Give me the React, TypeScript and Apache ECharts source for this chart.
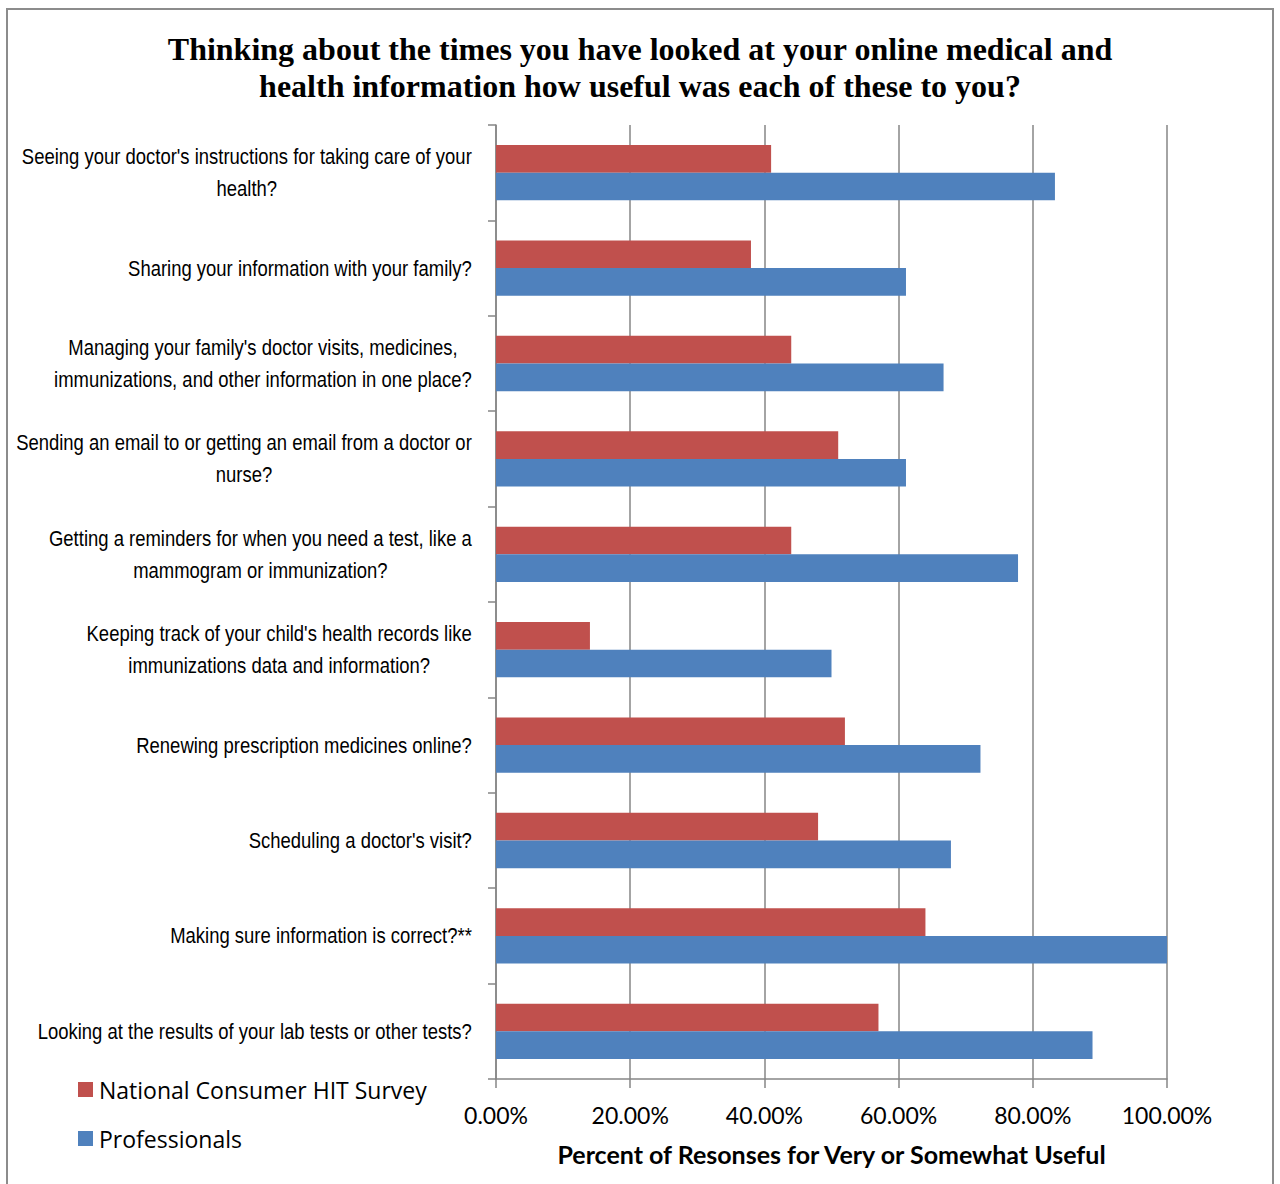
import React, { useEffect, useRef } from "react";
import * as echarts from "echarts";

// Survey questions, top to bottom
const categories: string[] = [
  "Seeing your doctor's instructions for taking care of your\nhealth?",
  "Sharing your information with your family?",
  "Managing your family's doctor visits, medicines,\nimmunizations, and other information in one place?",
  "Sending an email to or getting an email from a doctor or\nnurse?",
  "Getting a reminders for when you need a test, like a\nmammogram or immunization?",
  "Keeping track of your child's health records like\nimmunizations data and information?",
  "Renewing prescription medicines online?",
  "Scheduling a doctor's visit?",
  "Making sure information is correct?**",
  "Looking at the results of your lab tests or other tests?",
];

const seriesNames: string[] = ["National Consumer HIT Survey", "Professionals"];

// Percent answering very or somewhat useful
const consumerValues: number[] = [41.0, 38.0, 44.0, 51.0, 44.0, 14.0, 52.0, 48.0, 64.0, 57.0];
const professionalValues: number[] = [83.3, 61.1, 66.7, 61.1, 77.8, 50.0, 72.2, 67.8, 100.0, 88.9];

const xTicks = { min: 0, max: 100, interval: 20 };

const titleText =
  "Thinking about the times you have looked at your online medical and\nhealth information how useful was each of these to you?";
const xAxisTitle = "Percent of Resonses for Very or Somewhat Useful";

const RED = "#C0504D";
const BLUE = "#4F81BD";
const GRID_GREY = "#868686";
const LABEL_FONT = "'Liberation Sans', Arial, sans-serif";
const LABEL_GAP = 24; // distance from the category axis line to the label's right edge
const LABEL_SQUEEZE = 0.84; // horizontal condensing of category labels

export default function App() {
  const ref = useRef<HTMLDivElement>(null);

  useEffect(() => {
    document.body.style.margin = "0";
    if (!ref.current) return;
    const chart = echarts.init(ref.current, null, { renderer: "svg" });

    const frame = {
      type: "rect",
      shape: { x: 7, y: 9, width: 1266, height: 1200 },
      style: { fill: "none", stroke: "#8c8c8c", lineWidth: 2 },
      silent: true,
    };

    chart.setOption({
      animation: false,
      backgroundColor: "#ffffff",
      title: {
        text: titleText,
        left: "center",
        top: 25,
        textStyle: {
          fontFamily: "'Liberation Serif', 'Times New Roman', serif",
          fontWeight: "bold",
          fontSize: 32,
          lineHeight: 37,
          color: "#000000",
        },
      },
      graphic: [frame],
      legend: {
        orient: "vertical",
        left: 78,
        top: 1078,
        padding: 0,
        itemWidth: 15,
        itemHeight: 15,
        itemGap: 26,
        icon: "rect",
        data: seriesNames,
        textStyle: {
          fontFamily: "'Open Sans', sans-serif",
          fontSize: 23,
          lineHeight: 15,
          color: "#000000",
          padding: [0, 0, 0, 1],
        },
      },
      grid: {
        left: 496,
        right: 113,
        top: 125,
        bottom: 105,
        containLabel: false,
        outerBoundsMode: "none",
      },
      xAxis: {
        type: "value",
        min: xTicks.min,
        max: xTicks.max,
        interval: xTicks.interval,
        name: xAxisTitle,
        nameLocation: "middle",
        nameGap: 62,
        nameTextStyle: {
          fontFamily: "Lato, sans-serif",
          fontWeight: "bold",
          fontSize: 25,
          color: "#000000",
        },
        axisLine: { show: true, lineStyle: { color: GRID_GREY, width: 1.5 } },
        axisTick: { show: true, length: 9, lineStyle: { color: GRID_GREY, width: 1.5 } },
        splitLine: { show: true, lineStyle: { color: GRID_GREY, width: 1.5 } },
        axisLabel: {
          margin: 24,
          fontFamily: "Lato, sans-serif",
          fontSize: 23,
          color: "#000000",
          formatter: (v: number) => `${v.toFixed(2)}%`,
        },
      },
      yAxis: {
        type: "category",
        inverse: true,
        data: categories,
        axisLine: { show: true, lineStyle: { color: GRID_GREY, width: 1.5 } },
        axisTick: { show: true, length: 8, lineStyle: { color: GRID_GREY, width: 1.5 } },
        splitLine: { show: false },
        axisLabel: { show: false },
      },
      series: [
        {
          name: seriesNames[0],
          type: "bar",
          data: consumerValues,
          barGap: "0%",
          barCategoryGap: "42%",
          itemStyle: { color: RED },
        },
        {
          name: seriesNames[1],
          type: "bar",
          data: professionalValues,
          barGap: "0%",
          barCategoryGap: "42%",
          itemStyle: { color: BLUE },
        },
      ],
    });

    // Category labels: condensed, lines centred on each other, block right-aligned to the axis.
    const axisX = chart.convertToPixel({ xAxisIndex: 0 }, xTicks.min) as number;
    const labels = categories.map((cat, i) => {
      const y = chart.convertToPixel({ yAxisIndex: 0 }, i) as number;
      return {
        type: "text",
        x: axisX - LABEL_GAP,
        y,
        scaleX: LABEL_SQUEEZE,
        silent: true,
        style: {
          text: cat
            .split("\n")
            .map((line) => `{c|${line}}`)
            .join("\n"),
          align: "right",
          verticalAlign: "middle",
          rich: {
            c: {
              align: "center",
              fontFamily: LABEL_FONT,
              fontSize: 22,
              lineHeight: 32,
              fill: "#000000",
            },
          },
        },
      };
    });
    chart.setOption({ graphic: [frame, ...labels] });

    return () => chart.dispose();
  }, []);

  return <div ref={ref} style={{ width: 1280, height: 1184 }} />;
}
